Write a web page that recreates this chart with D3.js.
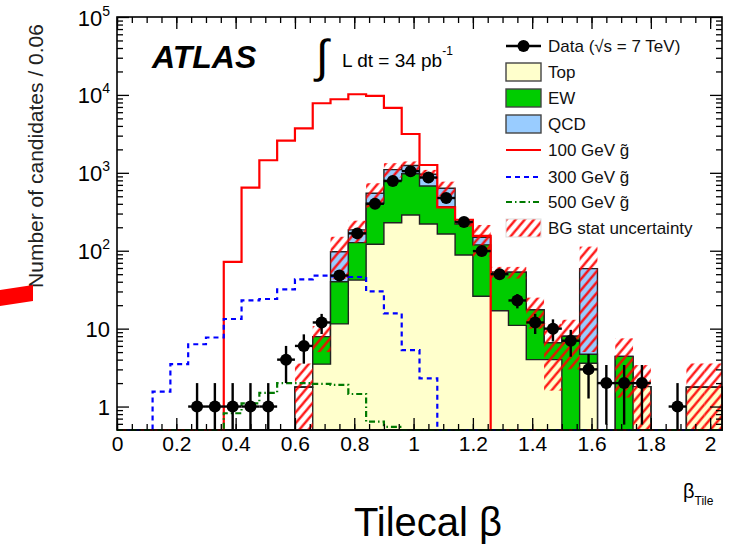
<!DOCTYPE html>
<html>
<head>
<meta charset="utf-8">
<script src="https://cdn.jsdelivr.net/npm/d3@7"></script>
<style>
body { margin: 0; background: #fff; }
text { font-family: "Liberation Sans", Arial, sans-serif; }
</style>
</head>
<body>
<script>
// 34 bins of 0.06 in beta, from 0 to 2.04
var binWidth = 0.06;
var nBins = 34;

// data and backgrounds, one value per bin
var dataCounts = [0,0,0,0,1,1,1,1,1,4,6,12,48,167,400,785,1050,870,475,234,99,50,23,12,10,7,3,2,2,2,0,1,0,0];
var otherBG    = [0,0,0,0,0,0,0,0,0,0,1.77,0,0,0,0,0,0,0,0,0,0,0,0,0,0,0,0,0,0,0,0,0,0,0];
var topBG      = [0,0,0,0,0,0,0,0,0,0,0,3.5,11.5,42,121,229,288,220,164,88,26,17,11,4,4,0,3.6,0,0,1.8,0,0,1.77,1.77];
var ewBG       = [0,0,0,0,0,0,0,0,0,0,0,4.4,28.5,85,285,571,687,458,204,132,93,36,42,13.5,2.6,8,1.1,0,4.4,0,0,0,0,0];
var qcdBG      = [0,0,0,0,0,0,0,0,0,0,0,0,57,58,141,300,265,282,266,0,30,0,0,0,0,0,54.3,0,0,0,0,0,0,0];
var bgErr      = [0,0,0,0,0,0,0,0,0,0,1.8,2.9,54,58,188,230,160,130,136,16,65,9,9,7.5,5,5,54,0,3.1,1.6,0,0,1.8,1.8];

// gluino signals
var gluino100 = [0,0,0,0,0,0,72,645,1450,2590,3730,7810,8790,10200,9700,6800,3150,1260,360,250,155,0,0,0,0,0,0,0,0,0,0,0,0,0];
var gluino300 = [0,0,1.55,3.5,6.3,7.7,13.3,23,24,32,43,48,47,46,30,15.7,5.3,2.3,0,0,0,0,0,0,0,0,0,0,0,0,0,0,0,0];
var gluino500 = [0,0,0,0,0,0,0.82,1.1,1.5,2.0,2.0,1.95,1.9,1.45,0.64,0.55,0,0,0,0,0,0,0,0,0,0,0,0,0,0,0,0,0,0];

var xTickValues = [0,0.2,0.4,0.6,0.8,1,1.2,1.4,1.6,1.8,2];
var xTickLabels = ["0","0.2","0.4","0.6","0.8","1","1.2","1.4","1.6","1.8","2"];
var yTickValues = [1,10,100,1000,10000,100000];
var yTickBase   = ["1","10","10","10","10","10"];
var yTickPower  = ["","","2","3","4","5"];

var legendLabels = ["Data (\u221As = 7 TeV)","Top","EW","QCD","100 GeV g\u0303","300 GeV g\u0303","500 GeV g\u0303","BG stat uncertainty"];

var cTop = "#ffffcc", cEW = "#00cc00", cQCD = "#99ccff";

var L = 117, R = 722, T = 17, B = 430;

var svg = d3.select("body").append("svg")
  .attr("width", 729)
  .attr("height", 544);

var defs = svg.append("defs");
var hatch = defs.append("pattern")
  .attr("id", "hatch")
  .attr("patternUnits", "userSpaceOnUse")
  .attr("width", 7).attr("height", 7)
  .attr("patternTransform", "rotate(40)");
hatch.append("line")
  .attr("x1", 1.5).attr("y1", 0).attr("x2", 1.5).attr("y2", 7)
  .attr("stroke", "#ff0000").attr("stroke-width", 2.2);

var x = d3.scaleLinear().domain([0, nBins * binWidth]).range([L, R]);
var y = d3.scaleLog().domain([0.5, 1e5]).range([B, T]);
var yc = function(v) { return v > 0.5 ? y(v) : B; };

var edges = d3.range(nBins + 1).map(function(i) { return i * binWidth; });

function stepPts(vals) {
  var pts = [];
  vals.forEach(function(v, i) {
    pts.push([x(edges[i]), yc(v)]);
    pts.push([x(edges[i + 1]), yc(v)]);
  });
  return pts;
}

var line = d3.line();

// stacked backgrounds, drawn from the largest cumulative histogram down
var cum0 = otherBG.slice();
var cum1 = cum0.map(function(v, i) { return v + topBG[i]; });
var cum2 = cum1.map(function(v, i) { return v + ewBG[i]; });
var cum3 = cum2.map(function(v, i) { return v + qcdBG[i]; });

var layers = [[cum3, cQCD], [cum2, cEW], [cum1, cTop], [cum0, "#ffffff"]];
var plot = svg.append("g");
layers.forEach(function(l) {
  var pts = stepPts(l[0]);
  pts.push([x(edges[nBins]), B]);
  pts.push([x(0), B]);
  plot.append("path")
    .attr("d", line(pts) + "Z")
    .attr("fill", l[1])
    .attr("stroke", "#222")
    .attr("stroke-width", 1.4);
});

// BG stat uncertainty
plot.selectAll(".band")
  .data(d3.range(nBins).filter(function(i) { return bgErr[i] > 0; }))
  .join("rect")
  .attr("x", function(i) { return x(edges[i]); })
  .attr("width", function(i) { return x(edges[i + 1]) - x(edges[i]); })
  .attr("y", function(i) { return yc(cum3[i] + bgErr[i]); })
  .attr("height", function(i) { return yc(cum3[i] - bgErr[i]) - yc(cum3[i] + bgErr[i]); })
  .attr("fill", "url(#hatch)");

// signal histograms
var signals = [
  [gluino100, "#ff0000", null],
  [gluino300, "#0000ff", "5,4"],
  [gluino500, "#007a00", "6,3,1.5,3"]
];
signals.forEach(function(s) {
  plot.append("path")
    .attr("d", line(stepPts(s[0])))
    .attr("fill", "none")
    .attr("stroke", s[1])
    .attr("stroke-width", 2.2)
    .attr("stroke-dasharray", s[2]);
});

// data points with sqrt(N) errors
var dataIdx = d3.range(nBins).filter(function(i) { return dataCounts[i] > 0; });
var pts = plot.selectAll(".pt").data(dataIdx).join("g");
pts.append("line")
  .attr("x1", function(i) { return x(edges[i]); })
  .attr("x2", function(i) { return x(edges[i + 1]); })
  .attr("y1", function(i) { return y(dataCounts[i]); })
  .attr("y2", function(i) { return y(dataCounts[i]); })
  .attr("stroke", "#000").attr("stroke-width", 2.4);
pts.append("line")
  .attr("x1", function(i) { return x(edges[i] + binWidth / 2); })
  .attr("x2", function(i) { return x(edges[i] + binWidth / 2); })
  .attr("y1", function(i) { return yc(dataCounts[i] + Math.sqrt(dataCounts[i])); })
  .attr("y2", function(i) { return yc(dataCounts[i] - Math.sqrt(dataCounts[i])); })
  .attr("stroke", "#000").attr("stroke-width", 2.4);
pts.append("circle")
  .attr("cx", function(i) { return x(edges[i] + binWidth / 2); })
  .attr("cy", function(i) { return y(dataCounts[i]); })
  .attr("r", 6)
  .attr("fill", "#000");

// axes: ticks point into the frame
var xMinor = d3.range(41).map(function(i) { return i * 0.05; });
var yMinor = [];
[-1, 0, 1, 2, 3, 4].forEach(function(d) {
  for (var k = 2; k <= 9; k++) {
    var v = k * Math.pow(10, d);
    if (v > 0.5 && v < 1e5) yMinor.push(v);
  }
});

function styleAxis(g) {
  g.select(".domain").remove();
  g.selectAll(".tick line").attr("stroke", "#000").attr("stroke-width", 1.3);
}

svg.append("g").attr("transform", "translate(0," + B + ")")
  .call(d3.axisBottom(x).tickValues(xMinor).tickSize(-6).tickFormat(""))
  .call(styleAxis);
svg.append("g").attr("transform", "translate(0," + T + ")")
  .call(d3.axisTop(x).tickValues(xMinor).tickSize(-6).tickFormat(""))
  .call(styleAxis);
svg.append("g").attr("transform", "translate(0," + B + ")")
  .call(d3.axisBottom(x).tickValues(xTickValues).tickSize(-12).tickPadding(6)
    .tickFormat(function(d, i) { return xTickLabels[i]; }))
  .call(styleAxis)
  .selectAll("text").attr("font-size", 21).attr("fill", "#000")
  .attr("font-family", "'Liberation Sans', Arial, sans-serif");
svg.append("g").attr("transform", "translate(0," + T + ")")
  .call(d3.axisTop(x).tickValues(xTickValues).tickSize(-12).tickFormat(""))
  .call(styleAxis);

svg.append("g").attr("transform", "translate(" + L + ",0)")
  .call(d3.axisLeft(y).tickValues(yMinor).tickSize(-6).tickFormat(""))
  .call(styleAxis);
svg.append("g").attr("transform", "translate(" + R + ",0)")
  .call(d3.axisRight(y).tickValues(yMinor).tickSize(-6).tickFormat(""))
  .call(styleAxis);
svg.append("g").attr("transform", "translate(0," + 0 + ")")
  .attr("transform", "translate(" + R + ",0)")
  .call(d3.axisRight(y).tickValues(yTickValues).tickSize(-12).tickFormat(""))
  .call(styleAxis);
var yAx = svg.append("g").attr("transform", "translate(" + L + ",0)")
  .call(d3.axisLeft(y).tickValues(yTickValues).tickSize(-12).tickFormat(""))
  .call(styleAxis);
yAx.selectAll(".tick").each(function(d, i) {
  var t = d3.select(this).append("text")
    .attr("x", -7).attr("y", 8)
    .attr("text-anchor", "end")
    .attr("fill", "#000")
    .attr("font-size", 22)
    .attr("font-family", "'Liberation Sans', Arial, sans-serif");
  t.append("tspan").text(yTickBase[i]);
  if (yTickPower[i]) {
    t.append("tspan").attr("dy", -10).attr("font-size", 14).text(yTickPower[i]);
  }
});

svg.append("rect")
  .attr("x", L).attr("y", T)
  .attr("width", R - L).attr("height", B - T)
  .attr("fill", "none").attr("stroke", "#000").attr("stroke-width", 1.6);

// labels
svg.append("text")
  .attr("transform", "translate(43," + 156 + ") rotate(-90)")
  .attr("text-anchor", "middle")
  .attr("font-size", 21)
  .attr("fill", "#222")
  .text("Number of candidates / 0.06");

svg.append("text").attr("x", 683).attr("y", 498)
  .attr("font-size", 20).attr("font-family", "DejaVu Sans").text("\u03B2")
  .append("tspan").attr("dy", 7).attr("font-size", 12)
  .attr("font-family", "'Liberation Sans', Arial").text("Tile");

svg.append("text").attr("x", 428).attr("y", 536)
  .attr("text-anchor", "middle")
  .attr("font-size", 40)
  .attr("font-family", "'Noto Sans', sans-serif")
  .text("Tilecal \u03B2");

svg.append("text").attr("x", 152).attr("y", 68)
  .attr("font-size", 32).attr("font-weight", "bold").attr("font-style", "italic")
  .text("ATLAS");

svg.append("text").attr("x", 316).attr("y", 72)
  .attr("font-size", 46).attr("font-family", "DejaVu Sans").text("\u222B");
var lumi = svg.append("text").attr("x", 342).attr("y", 67).attr("font-size", 19);
lumi.append("tspan").text("L dt = 34 pb");
lumi.append("tspan").attr("dy", -12).attr("font-size", 12).text("-1");

// legend
var leg = svg.append("g").attr("transform", "translate(506,0)");
var legY = [46, 72, 98, 124, 150, 177, 202, 228];
legendLabels.forEach(function(lab, i) {
  leg.append("text").attr("x", 42).attr("y", legY[i] + 6)
    .attr("font-size", 17).attr("fill", "#111").text(lab);
});
leg.append("line").attr("x1", 0).attr("x2", 35).attr("y1", legY[0]).attr("y2", legY[0])
  .attr("stroke", "#000").attr("stroke-width", 2.4);
leg.append("circle").attr("cx", 17.5).attr("cy", legY[0]).attr("r", 6);
[cTop, cEW, cQCD].forEach(function(c, i) {
  leg.append("rect").attr("x", 0).attr("y", legY[i + 1] - 9).attr("width", 35).attr("height", 18)
    .attr("fill", c).attr("stroke", "#444").attr("stroke-width", 1.4);
});
signals.forEach(function(s, i) {
  leg.append("line").attr("x1", 0).attr("x2", 35).attr("y1", legY[i + 4]).attr("y2", legY[i + 4])
    .attr("stroke", s[1]).attr("stroke-width", 2.2).attr("stroke-dasharray", s[2]);
});
leg.append("rect").attr("x", 0).attr("y", legY[7] - 9).attr("width", 35).attr("height", 18)
  .attr("fill", "url(#hatch)").attr("stroke", "#ddd").attr("stroke-width", 1);

// red pointer on the left edge
svg.append("path")
  .attr("d", "M0,290 L33,285 L33,301 L0,306 Z")
  .attr("fill", "#ff0000");
</script>
</body>
</html>
